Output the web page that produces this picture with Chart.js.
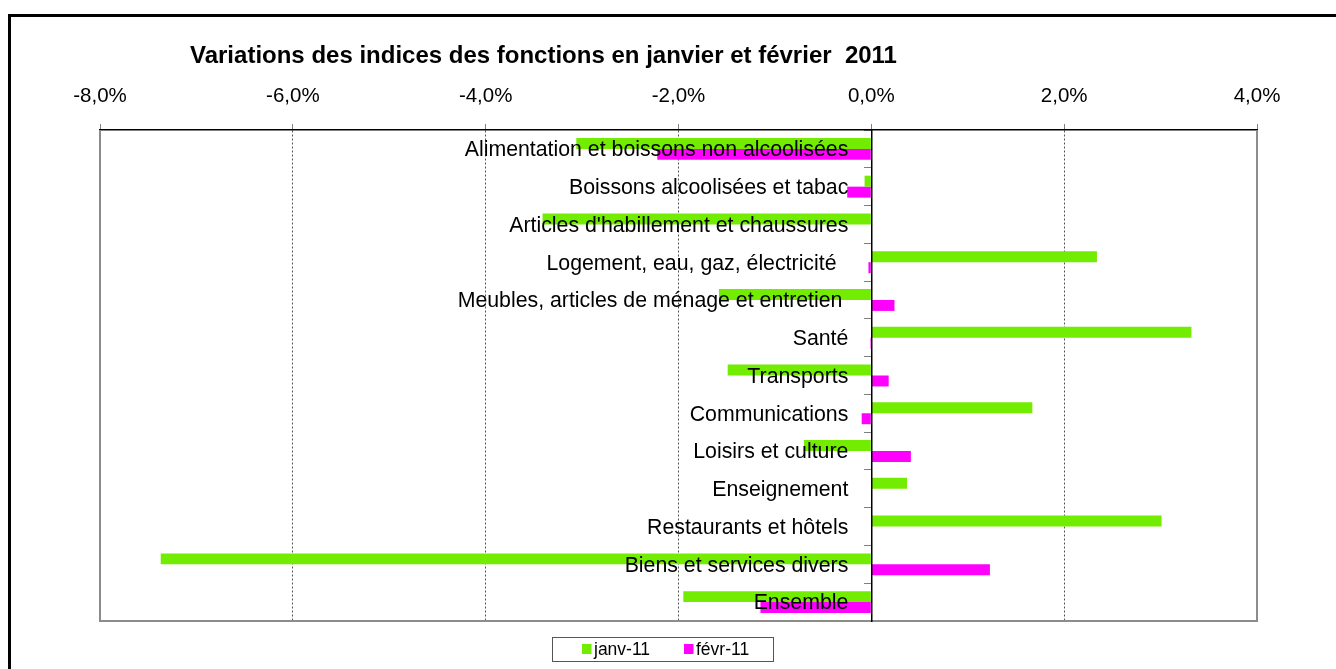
<!DOCTYPE html>
<html>
<head>
<meta charset="utf-8">
<script src="https://cdn.jsdelivr.net/npm/chart.js@4.4.1/dist/chart.umd.min.js"></script>
<style>
  html, body { margin: 0; padding: 0; background: #fff; }
  #c { display: block; }
</style>
</head>
<body>
<canvas id="c" width="1336" height="669"></canvas>
<script>
// ── Data ─────────────────────────────────────────────────────────────────────
const TITLE = "Variations des indices des fonctions en janvier et février  2011";

const categories = [
  "Alimentation et boissons non alcoolisées",
  "Boissons alcoolisées et tabac",
  "Articles d'habillement et chaussures",
  "Logement, eau, gaz, électricité  ",
  "Meubles, articles de ménage et entretien ",
  "Santé",
  "Transports",
  "Communications",
  "Loisirs et culture",
  "Enseignement",
  "Restaurants et hôtels",
  "Biens et services divers",
  "Ensemble",
];

// variation in %
const janv = [-3.06, -0.07, -3.41, 2.34, -1.58, 3.32, -1.49, 1.67, -0.70, 0.37, 3.01, -7.37, -1.95];
const fevr = [-2.22, -0.25, 0.00, -0.03, 0.24, -0.01, 0.18, -0.10, 0.41, 0.00, 0.00, 1.23, -1.15];

const seriesNames = ["janv-11", "févr-11"];
const xMin = -8, xMax = 4, xStep = 2;

// ── Styling ──────────────────────────────────────────────────────────────────
const FONT = 'Arial, "Liberation Sans", sans-serif';
const GREEN = "#72EC00";
const MAGENTA = "#FF00FF";
const LABEL_GAP = 23;   // category labels sit this far left of the zero line

const fmtPct = v => v.toFixed(1).replace(".", ",") + "%";

// frame, title, legend drawn around the plot
const decor = {
  id: "decor",
  beforeDraw(chart) {
    const ctx = chart.ctx;
    ctx.save();
    ctx.fillStyle = "#fff";
    ctx.fillRect(0, 0, chart.width, chart.height);
    // outer sheet frame
    ctx.strokeStyle = "#000";
    ctx.lineWidth = 3;
    ctx.beginPath();
    ctx.moveTo(9.5, chart.height);
    ctx.lineTo(9.5, 15.5);
    ctx.lineTo(chart.width, 15.5);
    ctx.stroke();
    // title
    ctx.fillStyle = "#000";
    ctx.font = "bold 24px " + FONT;
    ctx.textBaseline = "middle";
    ctx.textAlign = "left";
    ctx.fillText(TITLE, 190, 56);
    ctx.restore();

    // y axis sits on the zero line: push its labels left of the tick marks
    const y = chart.scales.y;
    y._labelItems = null;
    y.getLabelItems(chart.chartArea).forEach(item => {
      item.options.translation[0] -= LABEL_GAP;
      item.options.translation[1] += 1.5;
    });
  },
  beforeDatasetsDraw(chart) {
    const { ctx, chartArea: a } = chart;
    ctx.save();
    ctx.strokeStyle = "#8c8c8c";
    ctx.lineWidth = 2;
    ctx.beginPath();
    ctx.moveTo(a.left, a.top);
    ctx.lineTo(a.left, a.bottom);
    ctx.lineTo(a.right, a.bottom);
    ctx.lineTo(a.right, a.top);
    ctx.stroke();
    ctx.restore();
  },
  afterDraw(chart) {
    const ctx = chart.ctx;
    ctx.save();
    ctx.strokeStyle = "#555";
    ctx.lineWidth = 1;
    ctx.strokeRect(552.5, 637.5, 221, 24);
    ctx.font = "17.5px " + FONT;
    ctx.textBaseline = "middle";
    ctx.textAlign = "left";
    const xs = [582, 684];
    chart.data.datasets.forEach((ds, i) => {
      ctx.fillStyle = ds.backgroundColor;
      ctx.fillRect(xs[i], 644, 9.5, 10);
      ctx.fillStyle = "#000";
      ctx.fillText(ds.label, xs[i] + 12, 650);
    });
    ctx.restore();
  }
};

// ── Chart ────────────────────────────────────────────────────────────────────
new Chart(document.getElementById("c"), {
  type: "bar",
  data: {
    labels: categories,
    datasets: [
      { label: seriesNames[0], data: janv, backgroundColor: GREEN },
      { label: seriesNames[1], data: fevr, backgroundColor: MAGENTA },
    ]
  },
  options: {
    indexAxis: "y",
    responsive: false,
    animation: false,
    devicePixelRatio: 1,
    categoryPercentage: 0.58,
    barPercentage: 1,
    layout: { padding: { left: 100, right: 79, top: 80, bottom: 48 } },
    scales: {
      x: {
        position: "top",
        min: xMin,
        max: xMax,
        afterFit: s => { s.height = 50; },
        ticks: {
          stepSize: xStep,
          padding: 15,
          color: "#000",
          font: { size: 20.5, family: FONT },
          callback: v => fmtPct(v)
        },
        grid: {
          color: c => [xMin, 0, xMax].includes(c.tick && c.tick.value) ? "rgba(0,0,0,0)" : "#555",
          lineWidth: 1,
          tickColor: "#808080",
          tickLength: 6
        },
        border: { color: "#000", width: 1.5, dash: [2, 2] }
      },
      y: {
        position: { x: 0 },
        ticks: {
          z: 1,
          color: "#000",
          font: { size: 21.3, family: FONT },
          autoSkip: false
        },
        grid: {
          drawOnChartArea: false,
          offset: true,
          tickColor: "#808080",
          tickLength: 7
        },
        border: { z: 1, color: "#000", width: 1.5 }
      }
    },
    plugins: {
      legend: { display: false },
      title: { display: false },
      tooltip: { enabled: false }
    }
  },
  plugins: [decor]
});
</script>
</body>
</html>
